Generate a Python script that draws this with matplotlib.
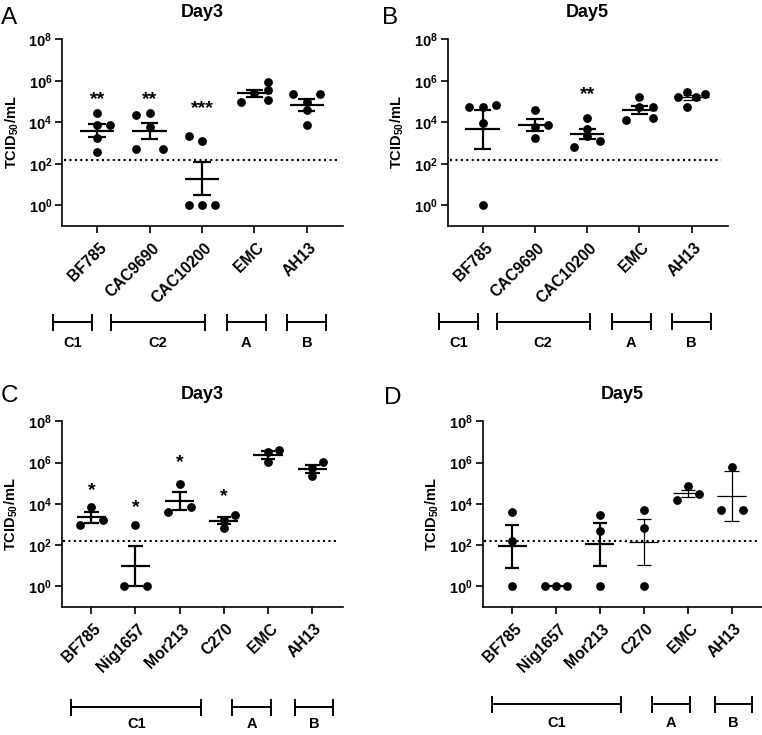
import matplotlib
matplotlib.use('Agg')
import matplotlib.pyplot as plt
import matplotlib.transforms as mtransforms
import numpy as np

plt.rcParams['font.family'] = ['Liberation Sans', 'DejaVu Sans']
plt.rcParams['font.weight'] = 'bold'
plt.rcParams['mathtext.fontset'] = 'custom'
plt.rcParams['mathtext.rm'] = 'Liberation Sans:bold'
plt.rcParams['mathtext.bf'] = 'Liberation Sans:bold'
plt.rcParams['mathtext.it'] = 'Liberation Sans:bold'

# ==================== data (log10 TCID50/mL, one value per animal) ====================
# A : Day3, panel 1
a_names = ['BF785', 'CAC9690', 'CAC10200', 'EMC', 'AH13']
a_vals = [[4.46, 3.86, 3.86, 3.22, 2.58],
          [4.35, 4.46, 3.75, 2.70, 2.70],
          [3.33, 3.09, 0, 0, 0],
          [4.96, 5.43, 5.96, 5.56, 5.07],
          [5.35, 5.35, 4.96, 4.59, 3.86]]
a_jit = [[0, 0, 1, 0, 0],
         [-1, 0, 0, -1, 1],
         [-1, 0, -1, 0, 1],
         [-1, 0, 1, 1, 1],
         [-1, 1, 0, 0, 0]]
a_stars = ['**', '**', '***', '', '']
a_star_y = [5.41, 5.40, 4.99, 0, 0]

# B : Day5, panel 1
b_names = ['BF785', 'CAC9690', 'CAC10200', 'EMC', 'AH13']
b_vals = [[4.72, 4.72, 4.85, 3.98, 0],
          [4.59, 3.75, 3.86, 3.22],
          [4.22, 3.70, 3.33, 2.82, 3.09],
          [5.23, 4.72, 4.72, 4.11, 4.22],
          [5.23, 5.47, 5.23, 5.35, 4.72]]
b_jit = [[-1, 0, 1, 0, 0],
         [0, 0, 1, 0],
         [0, 0, 0, -1, 1],
         [0, 0, 1, -1, 1],
         [-1, -0.33, 0.33, 1, -0.33]]
b_stars = ['', '', '**', '', '']
b_star_y = [0, 0, 5.64, 0, 0]

# C : Day3, panel 2
c_names = ['BF785', 'Nig1657', 'Mor213', 'C270', 'EMC', 'AH13']
c_vals = [[2.95, 3.85, 3.23],
          [2.95, 0, 0],
          [4.98, 3.60, 3.84],
          [2.84, 3.47, 3.24],
          [6.02, 6.49, 6.62],
          [5.36, 5.73, 6.02]]
c_jit = [[-1, 0, 1], [0, -1, 1], [0, -1, 1], [0, 1, 0], [0, 0, 1], [0, 0, 1]]
c_stars = ['*', '*', '*', '*', '', '']
c_star_y = [4.96, 4.13, 6.33, 4.64, 0, 0]

# D : Day5, panel 2
d_names = ['BF785', 'Nig1657', 'Mor213', 'C270', 'EMC', 'AH13']
d_vals = [[3.60, 2.20, 0],
          [0, 0, 0],
          [3.45, 2.68, 0],
          [3.69, 2.83, 0],
          [4.85, 4.21, 4.46],
          [5.78, 3.69, 3.69]]
d_jit = [[0, 0, 0], [-1, 0, 1], [0, 0, 0], [0, 0, 0], [0, -1, 1], [0, -1, 1]]
d_stars = ['', '', '', '', '', '']
d_star_y = [0, 0, 0, 0, 0, 0]
d_err = ['sem', 'sem', 'sem', 'sem', 'sem', 'sd']

# clade brackets under the x labels
ab_groups = ['C1', 'C2', 'A', 'B']
ab_spans = [(-0.84, -0.09), (0.265, 2.05), (2.475, 3.215), (3.63, 4.37)]
cd_groups = ['C1', 'A', 'B']
cd_spans = [(-0.45, 2.49), (3.19, 4.06), (4.61, 5.47)]

limit_log = 2.2  # detection limit

fig = plt.figure(figsize=(7.62, 7.35), dpi=100)
W, H = 762, 735


def draw_panel(box, names, vals, jit, stars, star_y, groups, spans, title,
               err=None, thin=()):
    ax = fig.add_axes([box[0] / W, 1 - box[3] / H, (box[1] - box[0]) / W, (box[3] - box[2]) / H])
    n = len(names)
    unit = 0.255
    for i, v in enumerate(vals):
        v = np.array(v, dtype=float)
        x = i + np.array(jit[i]) * unit
        ax.scatter(x, 10 ** v, s=40, c='black', linewidths=0, zorder=3, clip_on=False)
        m = v.mean()
        s = v.std(ddof=1)
        if err is None or err[i] == 'sem':
            s = s / np.sqrt(len(v))
        lw = 0.9 if i in thin else 1.6
        ax.hlines(10 ** m, i - 0.33, i + 0.33, colors='black', lw=lw, zorder=4)
        if s > 0:
            ax.vlines(i, 10 ** (m - s), 10 ** (m + s), colors='black', lw=lw, zorder=4)
            ax.hlines([10 ** (m - s), 10 ** (m + s)], i - 0.165, i + 0.165,
                      colors='black', lw=lw, zorder=4)
        if stars[i]:
            ax.annotate(stars[i], (i, 10 ** star_y[i]), xytext=(0, -0.56 * 14),
                        textcoords='offset points', ha='center', va='baseline',
                        fontsize=14, fontweight='bold')

    ax.plot([-0.63, n - 1 + 0.57], [10 ** limit_log] * 2, color='black',
            lw=1.5, ls=(0, (1, 1.6)), zorder=2)

    ax.set_yscale('log')
    ax.set_ylim(0.1, 1e8)
    ax.set_xlim(-0.67, n - 1 + 0.69)
    ax.set_yticks([1, 1e2, 1e4, 1e6, 1e8],
                  [r'$\mathbf{10^{%d}}$' % k for k in (0, 2, 4, 6, 8)])
    ax.yaxis.set_minor_locator(matplotlib.ticker.NullLocator())
    ax.tick_params(axis='both', direction='out', length=5, width=1.2)
    ax.tick_params(axis='x', labelsize=11.3, pad=5.3)
    ax.tick_params(axis='y', labelsize=10.5, pad=2)
    ax.set_xticks(range(n), names, rotation=45, ha='right', va='top',
                  rotation_mode='anchor')
    shift = mtransforms.ScaledTranslation(2 / 100, 0, fig.dpi_scale_trans)
    for lbl in ax.get_xticklabels():
        lbl.set_transform(lbl.get_transform() + shift)
    for lbl in ax.get_xticklabels() + ax.get_yticklabels():
        lbl.set_fontweight('bold')
    for side in ['top', 'right']:
        ax.spines[side].set_visible(False)
    for side in ['left', 'bottom']:
        ax.spines[side].set_linewidth(1.2)

    ah = box[3] - box[2]
    ax.text(-50 / (box[1] - box[0]), 0.5, r'$\mathbf{TCID_{50}/mL}$', rotation=90,
            transform=ax.transAxes, ha='center', va='center', fontsize=10.5)
    ax.text(0.5, 1 + 26.5 / ah, title, transform=ax.transAxes, ha='center',
            va='center', fontsize=13, fontweight='bold')

    tr = ax.get_xaxis_transform()
    yb = -(box[4] - box[3]) / ah
    yl = -(box[5] - box[3]) / ah
    tk = 7.5 / ah
    for g, (x0, x1) in zip(groups, spans):
        ax.plot([x0, x1], [yb, yb], color='black', lw=1.4, transform=tr, clip_on=False)
        ax.plot([x0, x0], [yb - tk, yb + tk], color='black', lw=1.4, transform=tr, clip_on=False)
        ax.plot([x1, x1], [yb - tk, yb + tk], color='black', lw=1.4, transform=tr, clip_on=False)
        ax.text((x0 + x1) / 2, yl, g, transform=tr, ha='center', va='center',
                fontsize=10.5, fontweight='bold')
    return ax


# box = (left, right, top, bottom, bracket_y, group_label_y) in pixels
draw_panel((62, 343, 39.3, 226, 322, 343), a_names, a_vals, a_jit, a_stars, a_star_y,
           ab_groups, ab_spans, 'Day3')
draw_panel((447.7, 727.7, 39.3, 226, 321.7, 343.3), b_names, b_vals, b_jit, b_stars, b_star_y,
           ab_groups, ab_spans, 'Day5', thin=(4,))
draw_panel((61.7, 342.7, 421.3, 607, 707, 723.7), c_names, c_vals, c_jit, c_stars, c_star_y,
           cd_groups, cd_spans, 'Day3')
draw_panel((482.7, 762, 421.3, 607, 704.3, 723), d_names, d_vals, d_jit, d_stars, d_star_y,
           cd_groups, cd_spans, 'Day5', err=d_err, thin=(3, 4, 5))

for letter, x, y in [('A', 0.5, 24), ('B', 382, 24), ('C', 0.5, 402), ('D', 384, 404)]:
    fig.text(x / W, 1 - y / H, letter, ha='left', va='baseline', fontsize=17.5,
             fontweight='normal')

fig.savefig('out.png', dpi=100)
